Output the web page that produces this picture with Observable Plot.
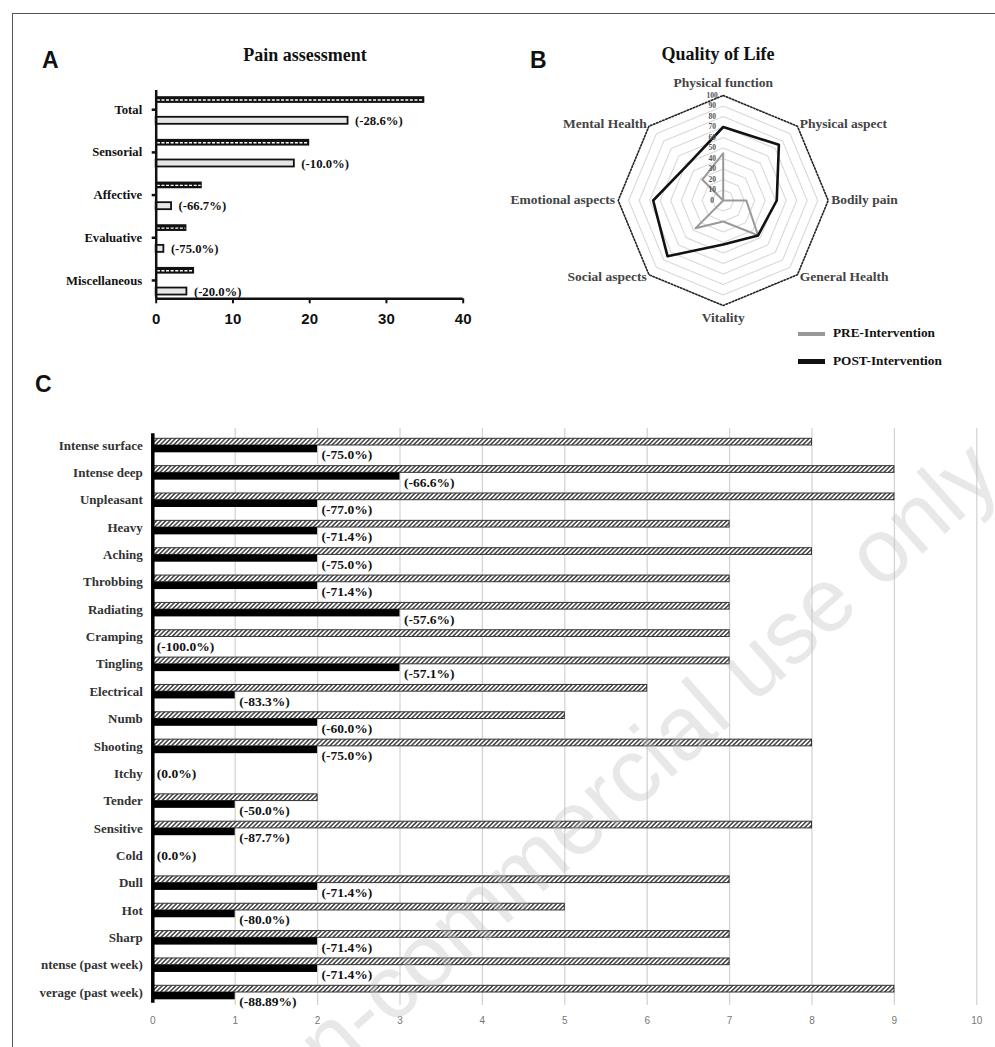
<!DOCTYPE html>
<html><head><meta charset="utf-8">
<script src="https://cdn.jsdelivr.net/npm/d3@7"></script>
<script src="https://cdn.jsdelivr.net/npm/@observablehq/plot@0.6"></script>
<style>
body{margin:0;background:#fff;}
#fig{position:relative;width:995px;height:1047px;overflow:hidden;background:#fff;}
.frame{position:absolute;left:12px;top:13px;width:1000px;height:1100px;border-left:1.5px solid #555;border-top:1.5px solid #555;}
.letter{position:absolute;font-family:"Liberation Sans Narrow","Liberation Sans",Arial,sans-serif;font-weight:bold;font-size:23px;line-height:23px;color:#111;}
.title{position:absolute;font-family:"Liberation Serif","Times New Roman",serif;font-weight:bold;font-size:18px;line-height:18px;color:#111;white-space:nowrap;transform:translateX(-50%);}
.leg{position:absolute;font-family:"Liberation Serif","Times New Roman",serif;font-weight:bold;font-size:13.3px;line-height:14px;color:#111;white-space:nowrap;}
.sw{position:absolute;width:27px;}
.wrap{position:absolute;overflow:hidden;}
#wm{position:absolute;left:604px;top:796px;transform:translate(-50%,-50%) rotate(-41.7deg);font-family:"Liberation Sans",Arial,sans-serif;font-size:90px;line-height:90px;color:rgba(190,190,190,0.36);white-space:nowrap;pointer-events:none;}
.wrap svg text{font-weight:bold;}
#pC g[aria-label="x-axis tick label"] text{font-weight:normal;}
</style></head>
<body><div id="fig">
<div class="frame"></div>
<div class="letter" style="left:42px;top:48.5px;">A</div>
<div class="letter" style="left:530px;top:48.5px;">B</div>
<div class="letter" style="left:35px;top:373px;">C</div>
<div class="title" style="left:305px;top:45.5px;">Pain assessment</div>
<div class="title" style="left:718px;top:44.5px;">Quality of Life</div>
<div class="wrap" id="pA" style="left:20px;top:70px;width:460px;height:270px;"></div>
<div class="wrap" id="pB" style="left:495px;top:70px;width:460px;height:265px;"></div>
<div class="wrap" id="pC" style="left:30px;top:420px;width:965px;height:620px;"></div>
<div id="legend"></div>
<div id="wm">Non-commercial use only</div>
</div>
<script>
// ---------- DATA ----------
const painCategories = ["Total", "Sensorial", "Affective", "Evaluative", "Miscellaneous"];
const painPre = [35, 20, 6, 4, 5];
const painPost = [25, 18, 2, 1, 4];
const painChange = ["(-28.6%)", "(-10.0%)", "(-66.7%)", "(-75.0%)", "(-20.0%)"];
const painTicks = [0, 10, 20, 30, 40];

const qolDomains = ["Physical function", "Physical aspect", "Bodily pain", "General Health",
  "Vitality", "Social aspects", "Emotional aspects", "Mental Health"];
const qolPre = [45, 0, 22, 47, 20, 37.5, 0, 28];
const qolPost = [70, 75, 51, 47, 42, 75, 66.7, 48];
const qolTicks = [0, 10, 20, 30, 40, 50, 60, 70, 80, 90, 100];
const qolSeries = ["PRE-Intervention", "POST-Intervention"];
const qolSeriesColors = ["#999999", "#111111"];

// labels as they appear in the figure (the last two are cut at the left edge there)
const descriptors = ["Intense surface", "Intense deep", "Unpleasant", "Heavy", "Aching", "Throbbing",
  "Radiating", "Cramping", "Tingling", "Electrical", "Numb", "Shooting", "Itchy", "Tender",
  "Sensitive", "Cold", "Dull", "Hot", "Sharp", "ntense (past week)", "verage (past week)"];
const descPre = [8, 9, 9, 7, 8, 7, 7, 7, 7, 6, 5, 8, 0, 2, 8, 0, 7, 5, 7, 7, 9];
const descPost = [2, 3, 2, 2, 2, 2, 3, 0, 3, 1, 2, 2, 0, 1, 1, 0, 2, 1, 2, 2, 1];
const descChange = ["(-75.0%)", "(-66.6%)", "(-77.0%)", "(-71.4%)", "(-75.0%)", "(-71.4%)",
  "(-57.6%)", "(-100.0%)", "(-57.1%)", "(-83.3%)", "(-60.0%)", "(-75.0%)", "(0.0%)", "(-50.0%)",
  "(-87.7%)", "(0.0%)", "(-71.4%)", "(-80.0%)", "(-71.4%)", "(-71.4%)", "(-88.89%)"];
const descTicks = [0, 1, 2, 3, 4, 5, 6, 7, 8, 9, 10];

const SERIF = "Liberation Serif, Times New Roman, serif";
const SANS = "Liberation Sans, Arial, sans-serif";

// ---------- PANEL A ----------
const A = painCategories.map((c, i) => ({c, i, pre: painPre[i], post: painPost[i], lab: painChange[i]}));
const yTopA = -0.45, yBotA = 4.43;
const plotA = Plot.plot({
  width: 460, height: 270, marginLeft: 135.7, marginRight: 17.3, marginTop: 20, marginBottom: 41.7,
  style: {background: "transparent", fontFamily: SERIF, fontSize: "12.5px", color: "#111"},
  x: {domain: [0, 40], label: null},
  y: {domain: [yTopA, yBotA], reverse: true, label: null},
  marks: [
    Plot.rect(A, {x1: 0, x2: "pre", y1: d => d.i - 0.305, y2: d => d.i - 0.148, fill: "#111"}),
    Plot.ruleY(A, {x1: 0.15, x2: d => d.pre - 0.15, y: d => d.i - 0.2265, stroke: "#fff", strokeWidth: 1.4, strokeDasharray: "3,1.6"}),
    Plot.rect(A, {x1: 0, x2: "post", y1: d => d.i + 0.178, y2: d => d.i + 0.342, fill: "#e6e6e6", stroke: "#111", strokeWidth: 1.8}),
    Plot.text(A, {x: "post", y: d => d.i + 0.26, text: "lab", textAnchor: "start", dx: 7, fontFamily: SERIF, fontWeight: "bold", fontSize: 12.7, fill: "#111"}),
    Plot.ruleX([0], {y1: yTopA, y2: yBotA, stroke: "#111", strokeWidth: 2.5}),
    Plot.ruleY([yBotA], {x1: 0, x2: 40, stroke: "#111", strokeWidth: 2.5}),
    Plot.axisX({ticks: painTicks, tickFormat: d => String(d), tickSize: 5, tickPadding: 9.5, strokeWidth: 2, fontSize: 15, fontFamily: SANS, fontWeight: "bold", label: null, color: "#111"}),
    Plot.axisY({ticks: painCategories.map((c, i) => i), tickFormat: i => painCategories[i], tickSize: 4, tickPadding: 10, strokeWidth: 2.5, fontSize: 12.7, fontFamily: SERIF, fontWeight: "bold", label: null, color: "#111"})
  ]
});
document.getElementById("pA").appendChild(plotA);

// ---------- PANEL B (radar) ----------
const K = 1.05; // px per unit
const cx = 227.7, cy = 130, wB = 460, hB = 265;
const ang = k => k * Math.PI / 4;
const px = (v, k) => v * Math.sin(ang(k));
const py = (v, k) => v * Math.cos(ang(k));
const ringPts = qolTicks.filter(t => t > 0 && t < 100).flatMap(v => qolDomains.map((d, k) => ({v, k})));
const outerPts = qolDomains.map((d, k) => ({v: 100, k}));
const prePts = qolDomains.map((d, k) => ({k, v: qolPre[k]}));
const postPts = qolDomains.map((d, k) => ({k, v: qolPost[k]}));
const labR = 103;
const labs = qolDomains.map((name, k) => ({name, k}));
const sgn = k => Math.round(Math.sin(ang(k)) * 1000) / 1000;
const plotB = Plot.plot({
  width: wB, height: hB, margin: 0,
  style: {background: "transparent", fontFamily: SERIF},
  x: {domain: [-cx / K, (wB - cx) / K], axis: null},
  y: {domain: [-(hB - cy) / K, cy / K], axis: null},
  marks: [
    Plot.line(ringPts, {x: d => px(d.v, d.k), y: d => py(d.v, d.k), z: "v", curve: "linear-closed", stroke: "#d9d9d9", strokeWidth: 1.1}),
    Plot.line(outerPts, {x: d => px(d.v, d.k), y: d => py(d.v, d.k), curve: "linear-closed", stroke: "#222", strokeWidth: 1.6, strokeDasharray: "1.5,1.8"}),
    Plot.line(prePts, {x: d => px(d.v, d.k), y: d => py(d.v, d.k), curve: "linear-closed", stroke: qolSeriesColors[0], strokeWidth: 2}),
    Plot.line(postPts, {x: d => px(d.v, d.k), y: d => py(d.v, d.k), curve: "linear-closed", stroke: qolSeriesColors[1], strokeWidth: 2.6}),
    Plot.text(qolTicks, {x: () => -10.5, y: d => d, text: d => String(d), fontSize: 7.5, fontWeight: "bold", fill: "#555"}),
    Plot.text(labs.filter(d => sgn(d.k) === 0 && Math.cos(ang(d.k)) > 0), {x: d => px(labR, d.k), y: d => py(labR, d.k), text: "name", dy: -10, fontSize: 13.5, fontWeight: "bold", fill: "#444"}),
    Plot.text(labs.filter(d => sgn(d.k) === 0 && Math.cos(ang(d.k)) < 0), {x: d => px(labR, d.k), y: d => py(labR, d.k), text: "name", dy: 9, fontSize: 13.5, fontWeight: "bold", fill: "#444"}),
    Plot.text(labs.filter(d => sgn(d.k) > 0), {x: d => px(labR, d.k), y: d => py(labR, d.k), text: "name", textAnchor: "start", dy: -0.5, fontSize: 13.5, fontWeight: "bold", fill: "#444"}),
    Plot.text(labs.filter(d => sgn(d.k) < 0), {x: d => px(labR, d.k), y: d => py(labR, d.k), text: "name", textAnchor: "end", dy: -0.5, fontSize: 13.5, fontWeight: "bold", fill: "#444"})
  ]
});
document.getElementById("pB").appendChild(plotB);

// legend (HTML)
const legend = document.getElementById("legend");
qolSeries.forEach((s, i) => {
  const y = [334, 361.7][i];
  const sw = document.createElement("div");
  sw.className = "sw";
  sw.style.left = "798px"; sw.style.top = (y - (i ? 2.5 : 2)) + "px";
  sw.style.height = (i ? 5 : 4) + "px"; sw.style.background = qolSeriesColors[i];
  legend.appendChild(sw);
  const t = document.createElement("div");
  t.className = "leg"; t.textContent = s;
  t.style.left = "833px"; t.style.top = (y - 8) + "px";
  legend.appendChild(t);
});

// ---------- PANEL C ----------
const C = descriptors.map((d, i) => ({d, i, pre: descPre[i], post: descPost[i], lab: descChange[i]}));
const HATCH = "#010203";
const yTopC = -0.6216, yBotC = 20.475;
const plotC = Plot.plot({
  width: 965, height: 620, marginLeft: 122.3, marginRight: 18.7, marginTop: 8, marginBottom: 35,
  style: {background: "transparent", fontFamily: SERIF, fontSize: "13px", color: "#333"},
  x: {domain: [0, 10], label: null},
  y: {domain: [yTopC, yBotC], reverse: true, label: null},
  marks: [
    Plot.ruleX(descTicks.filter(t => t > 0), {stroke: "#d4d4d4", strokeWidth: 1.3}),
    Plot.rect(C.filter(d => d.pre > 0), {x1: 0, x2: "pre", y1: d => d.i - 0.245, y2: d => d.i, fill: HATCH, stroke: "#333", strokeWidth: 1}),
    Plot.rect(C.filter(d => d.post > 0), {x1: 0, x2: "post", y1: d => d.i, y2: d => d.i + 0.267, fill: "#000"}),
    Plot.text(C, {x: "post", y: d => d.pre === 0 ? d.i : d.i + 0.35, text: "lab", textAnchor: "start", dx: 4, fontFamily: SERIF, fontWeight: "bold", fontSize: 13.5, fill: "#111"}),
    Plot.ruleX([0], {y1: -0.43, y2: 20.39, stroke: "#000", strokeWidth: 3.5}),
    Plot.axisX({ticks: descTicks, tickFormat: d => String(d), tickSize: 0, tickPadding: 11.5, fontSize: 10, fontFamily: SANS, label: null, color: "#777"}),
    Plot.axisY({ticks: descriptors.map((d, i) => i), tickFormat: i => descriptors[i], tickSize: 0, tickPadding: 10, fontSize: 13, fontFamily: SERIF, fontWeight: "bold", label: null, color: "#333"})
  ]
});
document.getElementById("pC").appendChild(plotC);
const svgC = d3.select(plotC.tagName === "svg" ? plotC : plotC.querySelector("svg"));
svgC.insert("defs", ":first-child").html(
  '<pattern id="hatchC" patternUnits="userSpaceOnUse" width="3.2" height="3.2" patternTransform="rotate(45)">' +
  '<rect width="3.2" height="3.2" fill="#fff"></rect>' +
  '<line x1="0.8" y1="0" x2="0.8" y2="3.2" stroke="#222" stroke-width="1.3"></line></pattern>');
svgC.selectAll('[fill="' + HATCH + '"]').attr("fill", "url(#hatchC)");
</script>
</body></html>
